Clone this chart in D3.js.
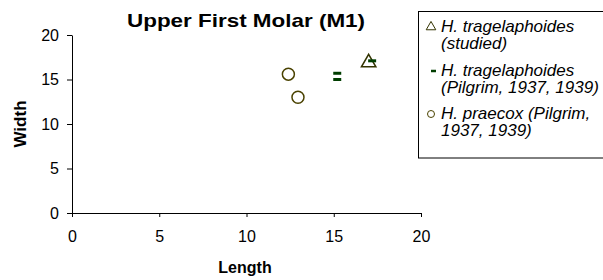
<!DOCTYPE html>
<html>
<head>
<meta charset="utf-8">
<script src="https://cdn.jsdelivr.net/npm/d3@7"></script>
<style>
  body { margin: 0; background: #fff; }
  svg { font-family: "Liberation Sans", Arial, sans-serif; }
</style>
</head>
<body>
<svg width="603" height="280"></svg>
<script>
// series (length, width)
var studiedLen = [17.0];
var studiedWid = [16.9];
var pilgrimLen = [15.2, 15.2, 17.2];
var pilgrimWid = [15.7, 15.0, 17.1];
var praecoxLen = [12.4, 12.95];
var praecoxWid = [15.6, 13.0];
var xTicks = [0, 5, 10, 15, 20];
var yTicks = [0, 5, 10, 15, 20];
var legendLines = [
  ["H. tragelaphoides", "(studied)"],
  ["H. tragelaphoides", "(Pilgrim, 1937, 1939)"],
  ["H. praecox (Pilgrim,", "1937, 1939)"]
];

var margin = { left: 72, top: 35, right: 182, bottom: 67 };
var width = 603, height = 280;
var mwidth = width - margin.left - margin.right;
var mheight = height - margin.top - margin.bottom;

var svg = d3.select("svg");

var xscale = d3.scaleLinear().domain([0, 20]).range([0, mwidth]);
var yscale = d3.scaleLinear().domain([0, 20]).range([mheight, 0]);

var g = svg.append("g")
           .attr("transform", "translate(" + margin.left + "," + margin.top + ")");

function styleAxis(sel) {
  sel.selectAll("path").attr("stroke", "#000");
  sel.selectAll("line").attr("stroke", "#000");
  sel.selectAll("text").attr("fill", "#000").attr("font-size", 16)
     .attr("font-family", "Liberation Sans, Arial, sans-serif");
}

var xaxis = g.append("g")
             .attr("transform", "translate(0," + mheight + ")")
             .call(d3.axisBottom(xscale).tickValues(xTicks).tickSizeInner(4).tickSizeOuter(0).tickPadding(14));
styleAxis(xaxis);

var yaxis = g.append("g")
             .call(d3.axisLeft(yscale).tickValues(yTicks).tickSizeInner(5).tickSizeOuter(0).tickPadding(8));
styleAxis(yaxis);

// praecox circles
g.selectAll("circle.praecox")
 .data(praecoxLen)
 .enter()
 .append("circle")
 .attr("class", "praecox")
 .attr("cx", function(d, i) { return xscale(praecoxLen[i]); })
 .attr("cy", function(d, i) { return yscale(praecoxWid[i]); })
 .attr("r", 6)
 .attr("fill", "#fff")
 .attr("stroke", "#4a4200")
 .attr("stroke-width", 1.5);

// studied triangles
var tri = d3.symbol().type(d3.symbolTriangle).size(90);
g.selectAll("path.studied")
 .data(studiedLen)
 .enter()
 .append("path")
 .attr("class", "studied")
 .attr("d", tri)
 .attr("transform", function(d, i) {
   return "translate(" + xscale(studiedLen[i]) + "," + yscale(studiedWid[i]) + ")";
 })
 .attr("fill", "#fff")
 .attr("stroke", "#333300")
 .attr("stroke-width", 1.5);

// Pilgrim dashes
g.selectAll("line.pilgrim")
 .data(pilgrimLen)
 .enter()
 .append("line")
 .attr("class", "pilgrim")
 .attr("x1", function(d, i) { return xscale(pilgrimLen[i]) - 4; })
 .attr("x2", function(d, i) { return xscale(pilgrimLen[i]) + 4; })
 .attr("y1", function(d, i) { return yscale(pilgrimWid[i]); })
 .attr("y2", function(d, i) { return yscale(pilgrimWid[i]); })
 .attr("stroke", "#003d00")
 .attr("stroke-width", 3);

// title and axis labels
svg.append("text")
   .attr("x", 246).attr("y", 27)
   .attr("text-anchor", "middle")
   .attr("font-size", 19).attr("font-weight", "bold")
   .attr("textLength", 238).attr("lengthAdjust", "spacingAndGlyphs")
   .text("Upper First Molar (M1)");

svg.append("text")
   .attr("x", 245).attr("y", 273)
   .attr("text-anchor", "middle")
   .attr("font-size", 16).attr("font-weight", "bold")
   .text("Length");

svg.append("text")
   .attr("transform", "translate(26," + (margin.top + mheight / 2) + ") rotate(-90)")
   .attr("text-anchor", "middle")
   .attr("font-size", 17).attr("font-weight", "bold")
   .text("Width");

// legend
var legend = svg.append("g");
legend.append("rect")
      .attr("x", 418.5).attr("y", 11.5)
      .attr("width", 200).attr("height", 146.5)
      .attr("fill", "#fff").attr("stroke", "#000");

var rowY = [26, 70, 113];
legendLines.forEach(function(lines, i) {
  var t = legend.append("text")
                .attr("x", 441).attr("y", rowY[i] + 5.5)
                .attr("font-size", 17).attr("font-style", "italic");
  t.append("tspan").attr("x", 441).text(lines[0]);
  t.append("tspan").attr("x", 441).attr("dy", 17.5).text(lines[1]);
});

legend.append("path")
      .attr("d", d3.symbol().type(d3.symbolTriangle).size(40))
      .attr("transform", "translate(431," + (rowY[0] + 1) + ")")
      .attr("fill", "#fff").attr("stroke", "#333300").attr("stroke-width", 1);
legend.append("line")
      .attr("x1", 431).attr("x2", 436)
      .attr("y1", rowY[1] + 1).attr("y2", rowY[1] + 1)
      .attr("stroke", "#003d00").attr("stroke-width", 2.5);
legend.append("circle")
      .attr("cx", 431).attr("cy", rowY[2] + 1).attr("r", 3.5)
      .attr("fill", "#fff").attr("stroke", "#4a4200").attr("stroke-width", 1);
</script>
</body>
</html>
